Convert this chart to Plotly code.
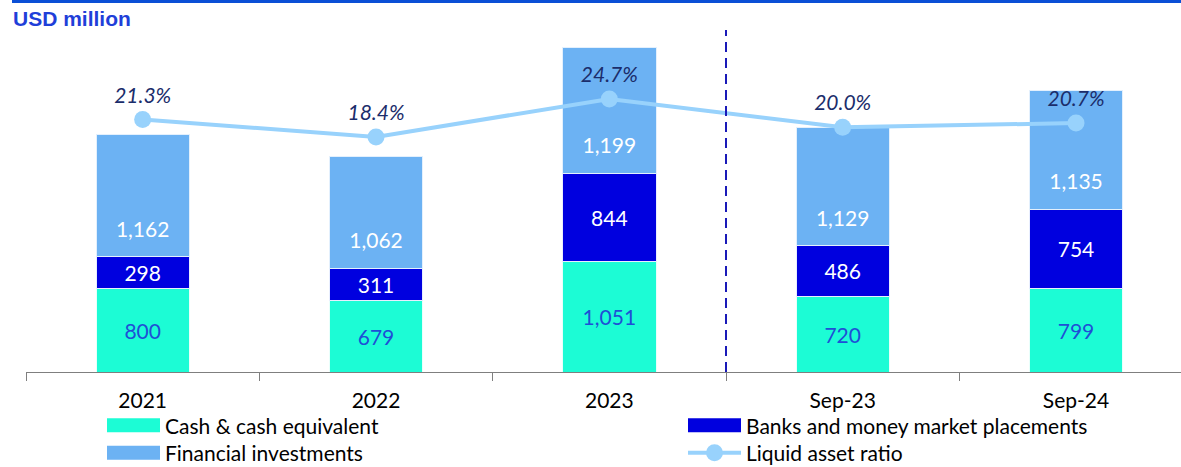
import plotly.graph_objects as go

# ---------------------------------------------------------------------------
# data
# ---------------------------------------------------------------------------
periods = ["2021", "2022", "2023", "Sep-23", "Sep-24"]
cash = [800, 679, 1051, 720, 799]
banks = [298, 311, 844, 486, 754]
investments = [1162, 1062, 1199, 1129, 1135]
liquid_ratio = [21.3, 18.4, 24.7, 20.0, 20.7]

legend_labels = [
    "Cash & cash equivalent",
    "Banks and money market placements",
    "Financial investments",
    "Liquid asset ratio",
]

# ---------------------------------------------------------------------------
# styles
# ---------------------------------------------------------------------------
C_CASH = "#1CFCD5"
C_BANKS = "#0000DF"
C_INV = "#6CB2F3"
C_LINE = "#98D2FC"
C_RATIO_TXT = "#1B2D6B"
C_CASH_TXT = "#1F4FD6"
FONT = "Lato"

W, H = 1181, 467
L, R, T, B = 26, 0, 35, 95
PW, PH = W - L - R, H - T - B


def px(x):
    return (x - L) / PW


def py(y):
    return (H - B - y) / PH


INV_LABEL_OFFSET = 240  # value units above the base of the investments segment

fig = go.Figure()

fig.add_trace(go.Bar(
    x=periods, y=cash, marker=dict(color=C_CASH, line=dict(color="#E8FFFB", width=1)),
    width=0.4, text=[f"{v:,}" for v in cash], textposition="inside",
    insidetextanchor="middle", textfont=dict(family=FONT, size=21, color=C_CASH_TXT),
    showlegend=False, hoverinfo="skip",
))
fig.add_trace(go.Bar(
    x=periods, y=banks, marker=dict(color=C_BANKS, line=dict(color="#E8EEFF", width=1)),
    width=0.4, text=[f"{v:,}" for v in banks], textposition="inside",
    insidetextanchor="middle", textfont=dict(family=FONT, size=21, color="white"),
    showlegend=False, hoverinfo="skip",
))
fig.add_trace(go.Bar(
    x=periods, y=investments, marker=dict(color=C_INV, line=dict(color="#E3F0FD", width=1)),
    width=0.4, showlegend=False, hoverinfo="skip",
))

# investments labels sit low inside the segment
fig.add_trace(go.Scatter(
    x=periods, y=[c + b + INV_LABEL_OFFSET for c, b in zip(cash, banks)],
    mode="text", text=[f"{v:,}" for v in investments],
    textfont=dict(family=FONT, size=21, color="white"),
    showlegend=False, hoverinfo="skip",
))

fig.add_trace(go.Scatter(
    x=periods, y=liquid_ratio, yaxis="y2", mode="lines+markers+text",
    line=dict(color=C_LINE, width=4), marker=dict(color=C_LINE, size=17),
    text=[f"{v:.1f}%" for v in liquid_ratio], textposition="top center",
    textfont=dict(family=FONT, size=21, color=C_RATIO_TXT, style="italic"),
    showlegend=False, hoverinfo="skip",
))

# dashed separator between annual and interim figures
shapes = [
    dict(type="line", xref="x", yref="paper", x0=2.5, x1=2.5, y0=0, y1=py(30),
         line=dict(color="#1A1AB8", width=2, dash="10px,6px")),
    dict(type="line", xref="paper", yref="paper", x0=px(12), x1=px(W), y0=py(1.5), y1=py(1.5),
         line=dict(color="#0B4FD6", width=3)),
]

annotations = [
    dict(text="<b>USD million</b>", xref="paper", yref="paper", x=px(11), y=py(19),
         xanchor="left", yanchor="middle", showarrow=False,
         font=dict(family="Liberation Sans", size=21, color="#1F3FD9")),
]

# legend drawn by hand: two columns, each column one two-line text block
LEG_FONT = 21
LEG_CENTER = 439
ROW_STEP = LEG_FONT * 1.3  # plotly's line spacing
rows = [LEG_CENTER - ROW_STEP / 2, LEG_CENTER + ROW_STEP / 2]

columns = [
    (107, [(legend_labels[0], C_CASH, "bar"), (legend_labels[2], C_INV, "bar")]),
    (688, [(legend_labels[1], C_BANKS, "bar"), (legend_labels[3], C_LINE, "line")]),
]
for x0, items in columns:
    for (label, color, kind), yc in zip(items, rows):
        if kind == "bar":
            shapes.append(dict(type="rect", xref="paper", yref="paper",
                               x0=px(x0), x1=px(x0 + 53), y0=py(yc + 7), y1=py(yc - 7),
                               fillcolor=color, line=dict(width=0)))
        else:
            shapes.append(dict(type="line", xref="paper", yref="paper",
                               x0=px(x0), x1=px(x0 + 53), y0=py(yc), y1=py(yc),
                               line=dict(color=color, width=4)))
            shapes.append(dict(type="circle", xref="paper", yref="paper",
                               x0=px(x0 + 18), x1=px(x0 + 35), y0=py(yc + 8.5), y1=py(yc - 8.5),
                               fillcolor=color, line=dict(width=0)))
    annotations.append(dict(text="<br>".join(i[0] for i in items), xref="paper", yref="paper",
                            x=px(x0 + 57), y=py(LEG_CENTER), xanchor="left", yanchor="middle",
                            align="left", showarrow=False, borderpad=0,
                            font=dict(family=FONT, size=LEG_FONT, color="black")))

fig.update_layout(
    width=W, height=H,
    margin=dict(l=L, r=R, t=T, b=B),
    plot_bgcolor="white", paper_bgcolor="white",
    barmode="stack",
    showlegend=False,
    xaxis=dict(
        type="category", categoryorder="array", categoryarray=periods,
        range=[-0.5, 4.45], tickson="boundaries", ticks="outside", ticklen=8,
        tickcolor="#7F7F7F", showline=True, linecolor="#7F7F7F", linewidth=1,
        showgrid=False, ticklabelstandoff=10,
        tickfont=dict(family=FONT, size=21, color="black"),
    ),
    yaxis=dict(range=[0, 3213], visible=False, showgrid=False, zeroline=False),
    yaxis2=dict(range=[-20.57, 35.3], overlaying="y", visible=False,
                showgrid=False, zeroline=False),
    shapes=shapes,
    annotations=annotations,
)

# page body margin would push the figure 8px off the window
fig.write_html("out.html", config={"displayModeBar": False},
               post_script="document.body.style.margin = '0';")
